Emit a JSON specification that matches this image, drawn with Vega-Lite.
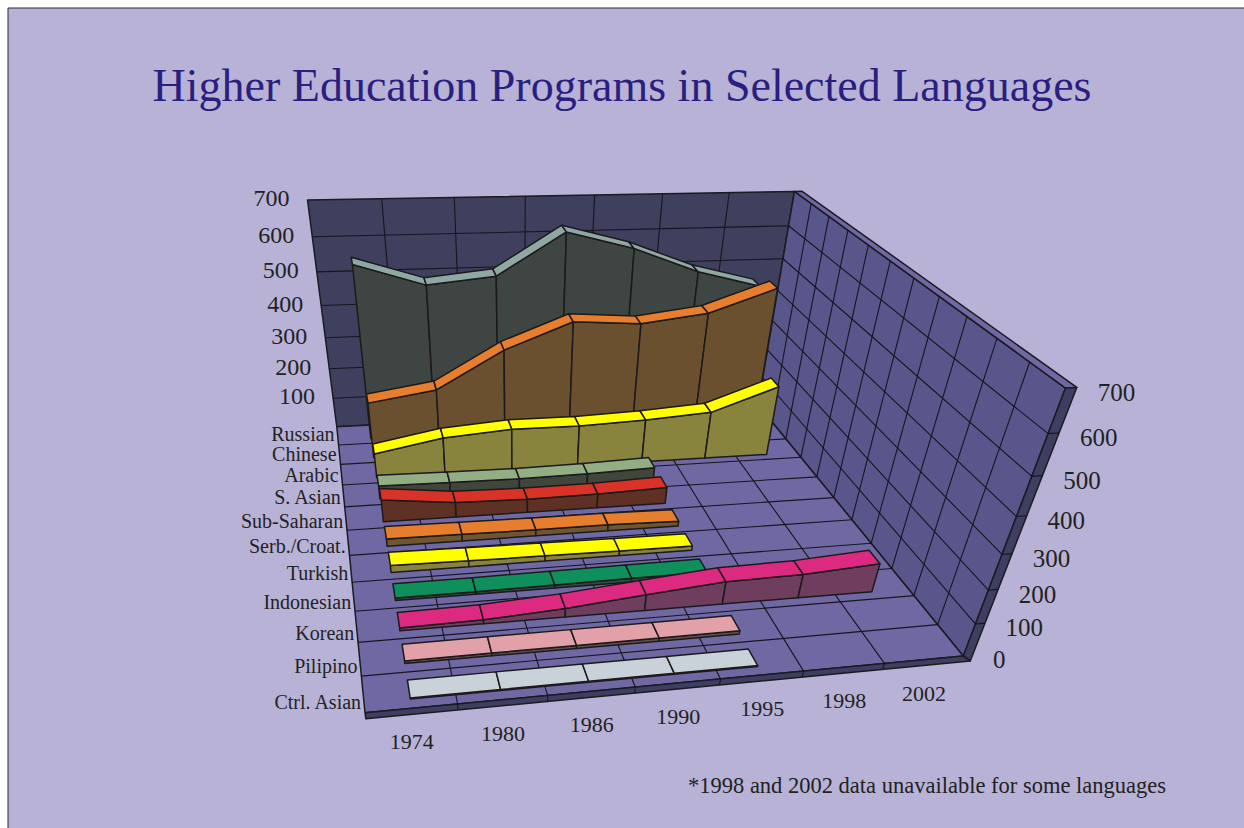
{
"$schema":"https://vega.github.io/schema/vega-lite/v6.json",
"width":1244,"height":828,"padding":0,"autosize":{"type":"none"},
"background":"#ffffff",
"config":{"view":{"stroke":null},"text":{"font":"Liberation Serif"}},
"title":{"text":"Higher Education Programs in Selected Languages","anchor":"middle","frame":"group","offset":-100,"dy":47,"font":"Liberation Serif","fontSize":46,"fontWeight":"normal","color":"#2a1f80","baseline":"alphabetic"},
"datasets":{
"programs":[
{"language":"Russian","k":10,"year":"1974","i":0,"value":550},{"language":"Russian","k":10,"year":"1980","i":1,"value":485},{"language":"Russian","k":10,"year":"1986","i":2,"value":505},{"language":"Russian","k":10,"year":"1990","i":3,"value":626},{"language":"Russian","k":10,"year":"1995","i":4,"value":574},{"language":"Russian","k":10,"year":"1998","i":5,"value":500},{"language":"Russian","k":10,"year":"2002","i":6,"value":450},
{"language":"Chinese","k":9,"year":"1974","i":0,"value":183},{"language":"Chinese","k":9,"year":"1980","i":1,"value":215},{"language":"Chinese","k":9,"year":"1986","i":2,"value":331},{"language":"Chinese","k":9,"year":"1990","i":3,"value":409},{"language":"Chinese","k":9,"year":"1995","i":4,"value":395},{"language":"Chinese","k":9,"year":"1998","i":5,"value":420},{"language":"Chinese","k":9,"year":"2002","i":6,"value":488},
{"language":"Arabic","k":8,"year":"1974","i":0,"value":80},{"language":"Arabic","k":8,"year":"1980","i":1,"value":120},{"language":"Arabic","k":8,"year":"1986","i":2,"value":137},{"language":"Arabic","k":8,"year":"1990","i":3,"value":136},{"language":"Arabic","k":8,"year":"1995","i":4,"value":144},{"language":"Arabic","k":8,"year":"1998","i":5,"value":158},{"language":"Arabic","k":8,"year":"2002","i":6,"value":232},
{"language":"S. Asian","k":7,"year":"1974","i":0,"value":44},{"language":"S. Asian","k":7,"year":"1980","i":1,"value":41},{"language":"S. Asian","k":7,"year":"1986","i":2,"value":39},{"language":"S. Asian","k":7,"year":"1990","i":3,"value":42},{"language":"S. Asian","k":7,"year":"1995","i":4,"value":49},
{"language":"Sub-Saharan","k":6,"year":"1974","i":0,"value":72},{"language":"Sub-Saharan","k":6,"year":"1980","i":1,"value":48},{"language":"Sub-Saharan","k":6,"year":"1986","i":2,"value":44},{"language":"Sub-Saharan","k":6,"year":"1990","i":3,"value":46},{"language":"Sub-Saharan","k":6,"year":"1995","i":4,"value":53},
{"language":"Serb./Croat.","k":5,"year":"1974","i":0,"value":24},{"language":"Serb./Croat.","k":5,"year":"1980","i":1,"value":22},{"language":"Serb./Croat.","k":5,"year":"1986","i":2,"value":20},{"language":"Serb./Croat.","k":5,"year":"1990","i":3,"value":20},{"language":"Serb./Croat.","k":5,"year":"1995","i":4,"value":16},
{"language":"Turkish","k":4,"year":"1974","i":0,"value":22},{"language":"Turkish","k":4,"year":"1980","i":1,"value":19},{"language":"Turkish","k":4,"year":"1986","i":2,"value":17},{"language":"Turkish","k":4,"year":"1990","i":3,"value":15},{"language":"Turkish","k":4,"year":"1995","i":4,"value":14},
{"language":"Indonesian","k":3,"year":"1974","i":0,"value":8},{"language":"Indonesian","k":3,"year":"1980","i":1,"value":8},{"language":"Indonesian","k":3,"year":"1986","i":2,"value":10},{"language":"Indonesian","k":3,"year":"1990","i":3,"value":12},{"language":"Indonesian","k":3,"year":"1995","i":4,"value":13},
{"language":"Korean","k":2,"year":"1974","i":0,"value":9},{"language":"Korean","k":2,"year":"1980","i":1,"value":13},{"language":"Korean","k":2,"year":"1986","i":2,"value":27},{"language":"Korean","k":2,"year":"1990","i":3,"value":50},{"language":"Korean","k":2,"year":"1995","i":4,"value":71},{"language":"Korean","k":2,"year":"1998","i":5,"value":75},{"language":"Korean","k":2,"year":"2002","i":6,"value":90},
{"language":"Pilipino","k":1,"year":"1974","i":0,"value":8},{"language":"Pilipino","k":1,"year":"1980","i":1,"value":9},{"language":"Pilipino","k":1,"year":"1986","i":2,"value":9},{"language":"Pilipino","k":1,"year":"1990","i":3,"value":10},{"language":"Pilipino","k":1,"year":"1995","i":4,"value":11},
{"language":"Ctrl. Asian","k":0,"year":"1974","i":0,"value":3},{"language":"Ctrl. Asian","k":0,"year":"1980","i":1,"value":3},{"language":"Ctrl. Asian","k":0,"year":"1986","i":2,"value":3},{"language":"Ctrl. Asian","k":0,"year":"1990","i":3,"value":3},{"language":"Ctrl. Asian","k":0,"year":"1995","i":4,"value":3}
],
"planes":[
{"plane":"back","c":0,"u":0,"w":11,"v":0},{"plane":"back","c":1,"u":7,"w":11,"v":0},{"plane":"back","c":2,"u":7,"w":11,"v":700},{"plane":"back","c":3,"u":0,"w":11,"v":700},{"plane":"back","c":4,"u":0,"w":11,"v":0},
{"plane":"side","c":0,"u":7,"w":0,"v":0},{"plane":"side","c":1,"u":7,"w":11,"v":0},{"plane":"side","c":2,"u":7,"w":11,"v":700},{"plane":"side","c":3,"u":7,"w":0,"v":700},{"plane":"side","c":4,"u":7,"w":0,"v":0},
{"plane":"floor","c":0,"u":0,"w":0,"v":0},{"plane":"floor","c":1,"u":7,"w":0,"v":0},{"plane":"floor","c":2,"u":7,"w":11,"v":0},{"plane":"floor","c":3,"u":0,"w":11,"v":0},{"plane":"floor","c":4,"u":0,"w":0,"v":0},
{"plane":"wallTop","c":0,"u":7,"w":0,"v":700},{"plane":"wallTop","c":1,"u":7.12,"w":0,"v":700},{"plane":"wallTop","c":2,"u":7.12,"w":11,"v":700},{"plane":"wallTop","c":3,"u":7,"w":11,"v":700},{"plane":"wallTop","c":4,"u":7,"w":0,"v":700},
{"plane":"wallEnd","c":0,"u":7,"w":0,"v":0},{"plane":"wallEnd","c":1,"u":7,"w":0,"v":700},{"plane":"wallEnd","c":2,"u":7.12,"w":0,"v":700},{"plane":"wallEnd","c":3,"u":7.12,"w":0,"v":-19},{"plane":"wallEnd","c":4,"u":7,"w":0,"v":0},
{"plane":"floorEnd","c":0,"u":0,"w":0,"v":0},{"plane":"floorEnd","c":1,"u":7,"w":0,"v":0},{"plane":"floorEnd","c":2,"u":7.12,"w":0,"v":-19},{"plane":"floorEnd","c":3,"u":0,"w":0,"v":-19},{"plane":"floorEnd","c":4,"u":0,"w":0,"v":0}
],
"grid":[
{"u0":1,"w0":0,"v0":0,"u1":1,"w1":11,"v1":0},{"u0":2,"w0":0,"v0":0,"u1":2,"w1":11,"v1":0},{"u0":3,"w0":0,"v0":0,"u1":3,"w1":11,"v1":0},{"u0":4,"w0":0,"v0":0,"u1":4,"w1":11,"v1":0},{"u0":5,"w0":0,"v0":0,"u1":5,"w1":11,"v1":0},{"u0":6,"w0":0,"v0":0,"u1":6,"w1":11,"v1":0},
{"u0":0,"w0":1,"v0":0,"u1":7,"w1":1,"v1":0},{"u0":0,"w0":2,"v0":0,"u1":7,"w1":2,"v1":0},{"u0":0,"w0":3,"v0":0,"u1":7,"w1":3,"v1":0},{"u0":0,"w0":4,"v0":0,"u1":7,"w1":4,"v1":0},{"u0":0,"w0":5,"v0":0,"u1":7,"w1":5,"v1":0},{"u0":0,"w0":6,"v0":0,"u1":7,"w1":6,"v1":0},{"u0":0,"w0":7,"v0":0,"u1":7,"w1":7,"v1":0},{"u0":0,"w0":8,"v0":0,"u1":7,"w1":8,"v1":0},{"u0":0,"w0":9,"v0":0,"u1":7,"w1":9,"v1":0},{"u0":0,"w0":10,"v0":0,"u1":7,"w1":10,"v1":0},
{"u0":1,"w0":11,"v0":0,"u1":1,"w1":11,"v1":700},{"u0":2,"w0":11,"v0":0,"u1":2,"w1":11,"v1":700},{"u0":3,"w0":11,"v0":0,"u1":3,"w1":11,"v1":700},{"u0":4,"w0":11,"v0":0,"u1":4,"w1":11,"v1":700},{"u0":5,"w0":11,"v0":0,"u1":5,"w1":11,"v1":700},{"u0":6,"w0":11,"v0":0,"u1":6,"w1":11,"v1":700},
{"u0":0,"w0":11,"v0":100,"u1":7,"w1":11,"v1":100},{"u0":0,"w0":11,"v0":200,"u1":7,"w1":11,"v1":200},{"u0":0,"w0":11,"v0":300,"u1":7,"w1":11,"v1":300},{"u0":0,"w0":11,"v0":400,"u1":7,"w1":11,"v1":400},{"u0":0,"w0":11,"v0":500,"u1":7,"w1":11,"v1":500},{"u0":0,"w0":11,"v0":600,"u1":7,"w1":11,"v1":600},
{"u0":7,"w0":1,"v0":0,"u1":7,"w1":1,"v1":700},{"u0":7,"w0":2,"v0":0,"u1":7,"w1":2,"v1":700},{"u0":7,"w0":3,"v0":0,"u1":7,"w1":3,"v1":700},{"u0":7,"w0":4,"v0":0,"u1":7,"w1":4,"v1":700},{"u0":7,"w0":5,"v0":0,"u1":7,"w1":5,"v1":700},{"u0":7,"w0":6,"v0":0,"u1":7,"w1":6,"v1":700},{"u0":7,"w0":7,"v0":0,"u1":7,"w1":7,"v1":700},{"u0":7,"w0":8,"v0":0,"u1":7,"w1":8,"v1":700},{"u0":7,"w0":9,"v0":0,"u1":7,"w1":9,"v1":700},{"u0":7,"w0":10,"v0":0,"u1":7,"w1":10,"v1":700},
{"u0":7,"w0":0,"v0":100,"u1":7,"w1":11,"v1":100},{"u0":7,"w0":0,"v0":200,"u1":7,"w1":11,"v1":200},{"u0":7,"w0":0,"v0":300,"u1":7,"w1":11,"v1":300},{"u0":7,"w0":0,"v0":400,"u1":7,"w1":11,"v1":400},{"u0":7,"w0":0,"v0":500,"u1":7,"w1":11,"v1":500},{"u0":7,"w0":0,"v0":600,"u1":7,"w1":11,"v1":600},
{"u0":7,"w0":0,"v0":100,"u1":7.12,"w1":0,"v1":100},{"u0":7,"w0":0,"v0":200,"u1":7.12,"w1":0,"v1":200},{"u0":7,"w0":0,"v0":300,"u1":7.12,"w1":0,"v1":300},{"u0":7,"w0":0,"v0":400,"u1":7.12,"w1":0,"v1":400},{"u0":7,"w0":0,"v0":500,"u1":7.12,"w1":0,"v1":500},{"u0":7,"w0":0,"v0":600,"u1":7.12,"w1":0,"v1":600},
{"u0":1,"w0":0,"v0":0,"u1":1,"w1":0,"v1":-19},{"u0":2,"w0":0,"v0":0,"u1":2,"w1":0,"v1":-19},{"u0":3,"w0":0,"v0":0,"u1":3,"w1":0,"v1":-19},{"u0":4,"w0":0,"v0":0,"u1":4,"w1":0,"v1":-19},{"u0":5,"w0":0,"v0":0,"u1":5,"w1":0,"v1":-19},{"u0":6,"w0":0,"v0":0,"u1":6,"w1":0,"v1":-19}
],
"ticks":[{"tick":0},{"tick":100},{"tick":200},{"tick":300},{"tick":400},{"tick":500},{"tick":600},{"tick":700}]
},
"resolve":{"scale":{"fill":"independent"}},
"layer":[
{"data":{"values":[{"panel":"page"}]},
 "mark":{"type":"rect","fill":"#b8b2d6","stroke":"#2a2a3a","strokeWidth":1},
 "encoding":{"x":{"datum":8,"type":"quantitative","scale":{"domain":[0,1244],"nice":false,"zero":false},"axis":null},"x2":{"datum":1300},"y":{"datum":8,"type":"quantitative","scale":{"domain":[828,0],"nice":false,"zero":false},"axis":null},"y2":{"datum":900}}},
{"data":{"name":"planes"},
 "transform":[
 {"calculate":"1+0.099*datum.u/7+0.468*datum.w/11-0.205*datum.v/700","as":"den"},
 {"calculate":"(365+693.6*datum.u/7+129.4*datum.w/11-106*datum.v/700)/datum.den","as":"px"},
 {"calculate":"(712.7+8.2*datum.u/7-86.2*datum.w/11-374*datum.v/700)/datum.den","as":"py"}],
 "mark":{"type":"line","stroke":"#1c1a22","strokeWidth":1.5,"strokeJoin":"round","clip":false},
 "encoding":{"x":{"field":"px","type":"quantitative","scale":{"domain":[0,1244],"nice":false,"zero":false},"axis":null},"y":{"field":"py","type":"quantitative","scale":{"domain":[828,0],"nice":false,"zero":false},"axis":null},"order":{"field":"c","type":"quantitative"},"detail":{"field":"plane"},
 "fill":{"field":"plane","type":"nominal","legend":null,"scale":{"domain":["back","side","floor","wallTop","wallEnd","floorEnd"],"range":["#3f3f5e","#58568b","#6f68a3","#6f68a3","#3e3e60","#3e3e60"]}}}},
{"data":{"name":"grid"},
 "transform":[
 {"calculate":"1+0.099*datum.u0/7+0.468*datum.w0/11-0.205*datum.v0/700","as":"d0"},
 {"calculate":"1+0.099*datum.u1/7+0.468*datum.w1/11-0.205*datum.v1/700","as":"d1"},
 {"calculate":"(365+693.6*datum.u0/7+129.4*datum.w0/11-106*datum.v0/700)/datum.d0","as":"px"},
 {"calculate":"(712.7+8.2*datum.u0/7-86.2*datum.w0/11-374*datum.v0/700)/datum.d0","as":"py"},
 {"calculate":"(365+693.6*datum.u1/7+129.4*datum.w1/11-106*datum.v1/700)/datum.d1","as":"px1"},
 {"calculate":"(712.7+8.2*datum.u1/7-86.2*datum.w1/11-374*datum.v1/700)/datum.d1","as":"py1"}],
 "mark":{"type":"rule","stroke":"#17151f","strokeWidth":1.1},
 "encoding":{"x":{"field":"px","type":"quantitative","scale":{"domain":[0,1244],"nice":false,"zero":false},"axis":null},"y":{"field":"py","type":"quantitative","scale":{"domain":[828,0],"nice":false,"zero":false},"axis":null},"x2":{"field":"px1"},"y2":{"field":"py1"}}},
{"data":{"name":"programs"},
 "transform":[
 {"window":[{"op":"lead","field":"value","as":"next"}],"sort":[{"field":"i","order":"ascending"}],"groupby":["language"]},
 {"filter":"isValid(datum.next)"},
 {"calculate":"['front','top']","as":"faces"},
 {"flatten":["faces"],"as":["face"]},
 {"calculate":"[0,1,2,3,4]","as":"corners"},
 {"flatten":["corners"],"as":["c"]},
 {"calculate":"datum.i+0.5+((datum.c==1||datum.c==2)?1:0)","as":"u"},
 {"calculate":"datum.k+((datum.face=='top'&&(datum.c==2||datum.c==3))?0.75:0.25)","as":"w"},
 {"calculate":"(datum.face=='front'&&(datum.c==2||datum.c==3))?0:((datum.c==1||datum.c==2)?datum.next:datum.value)","as":"v"},
 {"calculate":"1+0.099*datum.u/7+0.468*datum.w/11-0.205*datum.v/700","as":"den"},
 {"calculate":"(365+693.6*datum.u/7+129.4*datum.w/11-106*datum.v/700)/datum.den","as":"px"},
 {"calculate":"(712.7+8.2*datum.u/7-86.2*datum.w/11-374*datum.v/700)/datum.den","as":"py"},
 {"calculate":"datum.language+' '+datum.i+' '+datum.face","as":"poly"},
 {"calculate":"datum.language+' '+datum.face","as":"shade"}],
 "mark":{"type":"line","stroke":"#1c1a1c","strokeWidth":1.5,"strokeJoin":"round"},
 "encoding":{"x":{"field":"px","type":"quantitative","scale":{"domain":[0,1244],"nice":false,"zero":false},"axis":null},"y":{"field":"py","type":"quantitative","scale":{"domain":[828,0],"nice":false,"zero":false},"axis":null},"order":{"field":"c","type":"quantitative"},"detail":{"field":"poly"},
 "fill":{"field":"shade","type":"nominal","legend":null,"scale":{
 "domain":["Russian top","Russian front","Chinese top","Chinese front","Arabic top","Arabic front","S. Asian top","S. Asian front","Sub-Saharan top","Sub-Saharan front","Serb./Croat. top","Serb./Croat. front","Turkish top","Turkish front","Indonesian top","Indonesian front","Korean top","Korean front","Pilipino top","Pilipino front","Ctrl. Asian top","Ctrl. Asian front"],
 "range":["#8fa8a4","#3e4542","#e67e2e","#6b5030","#ffff00","#88843e","#93ad84","#40463a","#d93226","#5f3024","#e67e2e","#6f5532","#ffff00","#88843e","#0e8f5c","#2d4c3a","#dc2a80","#6f3d5e","#e2a0a8","#5f5048","#c8d2d8","#6a6a7a"]}}}},
{"data":{"name":"programs"},
 "transform":[
 {"aggregate":[],"groupby":["year","i"]},
 {"calculate":"(datum.i+0.5)/7","as":"U"},
 {"calculate":"1+0.099*datum.U","as":"den"},
 {"calculate":"(365+693.6*datum.U)/datum.den","as":"px"},
 {"calculate":"(712.7+8.2*datum.U)/datum.den","as":"py"}],
 "mark":{"type":"text","font":"Liberation Serif","fontSize":22,"color":"#222222","dy":34,"align":"center","baseline":"middle"},
 "encoding":{"x":{"field":"px","type":"quantitative","scale":{"domain":[0,1244],"nice":false,"zero":false},"axis":null},"y":{"field":"py","type":"quantitative","scale":{"domain":[828,0],"nice":false,"zero":false},"axis":null},"text":{"field":"year"}}},
{"data":{"name":"programs"},
 "transform":[
 {"aggregate":[],"groupby":["language","k"]},
 {"calculate":"(datum.k+0.25+0.003*datum.k*datum.k)/11","as":"W"},
 {"calculate":"1+0.468*datum.W","as":"den"},
 {"calculate":"(365+129.4*datum.W)/datum.den","as":"px"},
 {"calculate":"(712.7-86.2*datum.W)/datum.den","as":"py"}],
 "mark":{"type":"text","font":"Liberation Serif","fontSize":20,"color":"#222222","dx":-3,"align":"right","baseline":"middle"},
 "encoding":{"x":{"field":"px","type":"quantitative","scale":{"domain":[0,1244],"nice":false,"zero":false},"axis":null},"y":{"field":"py","type":"quantitative","scale":{"domain":[828,0],"nice":false,"zero":false},"axis":null},"text":{"field":"language"}}},
{"data":{"name":"ticks"},
 "transform":[
 {"filter":"datum.tick>0"},
 {"calculate":"1+0.468-0.205*datum.tick/700","as":"den"},
 {"calculate":"(365+129.4-106*datum.tick/700)/datum.den","as":"px"},
 {"calculate":"(712.7-86.2-374*datum.tick/700)/datum.den","as":"py"}],
 "mark":{"type":"text","font":"Liberation Serif","fontSize":24,"color":"#222222","dx":-18,"dy":-1,"align":"right","baseline":"middle"},
 "encoding":{"x":{"field":"px","type":"quantitative","scale":{"domain":[0,1244],"nice":false,"zero":false},"axis":null},"y":{"field":"py","type":"quantitative","scale":{"domain":[828,0],"nice":false,"zero":false},"axis":null},"text":{"field":"tick","type":"quantitative"}}},
{"data":{"name":"ticks"},
 "transform":[
 {"calculate":"1+0.099*7.14/7-0.205*datum.tick/700","as":"den"},
 {"calculate":"(365+693.6*7.14/7-106*datum.tick/700)/datum.den","as":"px"},
 {"calculate":"(712.7+8.2*7.14/7-374*datum.tick/700)/datum.den","as":"py"}],
 "mark":{"type":"text","font":"Liberation Serif","fontSize":25,"color":"#222222","dx":19,"dy":5.5,"align":"left","baseline":"middle"},
 "encoding":{"x":{"field":"px","type":"quantitative","scale":{"domain":[0,1244],"nice":false,"zero":false},"axis":null},"y":{"field":"py","type":"quantitative","scale":{"domain":[828,0],"nice":false,"zero":false},"axis":null},"text":{"field":"tick","type":"quantitative"}}},
{"data":{"values":[{"note":"*1998 and 2002 data unavailable for some languages"}]},
 "mark":{"type":"text","font":"Liberation Serif","fontSize":22.5,"color":"#222222","align":"left","baseline":"middle"},
 "encoding":{"text":{"field":"note"},"x":{"datum":688,"type":"quantitative","scale":{"domain":[0,1244],"nice":false,"zero":false},"axis":null},"y":{"datum":786,"type":"quantitative","scale":{"domain":[828,0],"nice":false,"zero":false},"axis":null}}}
]
}
